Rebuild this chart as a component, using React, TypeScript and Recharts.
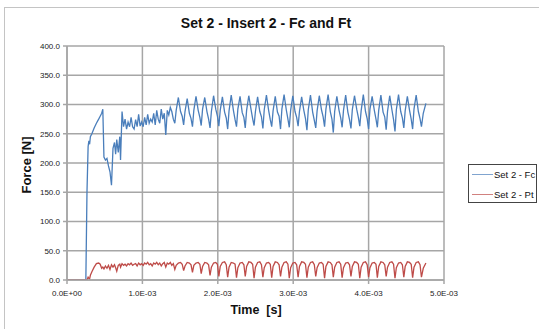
import React from "react";
import { LineChart, Line, XAxis, YAxis, CartesianGrid } from "recharts";

// time in milliseconds (axis labels shown in seconds, e.g. 1.0E-03)
const timeMs = [
  0, 0.25, 0.265, 0.28, 0.29, 0.30, 0.31, 0.33, 0.36, 0.39, 0.42, 0.44, 0.46, 0.475, 0.49, 0.51, 0.53, 0.55, 0.57, 0.59,
  0.61, 0.63, 0.645, 0.66, 0.68, 0.70, 0.71, 0.73, 0.75, 0.77, 0.79, 0.81, 0.83, 0.85, 0.87, 0.89, 0.91, 0.93, 0.95, 0.97,
  0.99, 1.01, 1.03, 1.05, 1.07, 1.09, 1.11, 1.13, 1.15, 1.17, 1.19, 1.21, 1.23, 1.25, 1.27, 1.29, 1.31, 1.33, 1.35, 1.37,
  1.39, 1.41,
  1.430, 1.448, 1.477, 1.506, 1.528,
  1.547, 1.565, 1.594, 1.623, 1.645,
  1.664, 1.682, 1.711, 1.740, 1.762,
  1.780, 1.798, 1.827, 1.856, 1.878,
  1.897, 1.915, 1.944, 1.973, 1.995,
  2.014, 2.032, 2.061, 2.090, 2.112,
  2.131, 2.149, 2.178, 2.207, 2.229,
  2.248, 2.266, 2.295, 2.324, 2.346,
  2.364, 2.382, 2.411, 2.440, 2.462,
  2.481, 2.499, 2.528, 2.557, 2.579,
  2.598, 2.616, 2.645, 2.674, 2.696,
  2.715, 2.733, 2.762, 2.791, 2.813,
  2.832, 2.850, 2.879, 2.908, 2.930,
  2.948, 2.966, 2.995, 3.024, 3.046,
  3.065, 3.083, 3.112, 3.141, 3.163,
  3.182, 3.200, 3.229, 3.258, 3.280,
  3.299, 3.317, 3.346, 3.375, 3.397,
  3.416, 3.434, 3.463, 3.492, 3.514,
  3.532, 3.550, 3.579, 3.608, 3.630,
  3.649, 3.667, 3.696, 3.725, 3.747,
  3.766, 3.784, 3.813, 3.842, 3.864,
  3.883, 3.901, 3.930, 3.959, 3.981,
  4.000, 4.018, 4.047, 4.076, 4.098,
  4.116, 4.134, 4.163, 4.192, 4.214,
  4.233, 4.251, 4.280, 4.309, 4.331,
  4.350, 4.368, 4.397, 4.426, 4.448,
  4.467, 4.485, 4.514, 4.543, 4.565,
  4.584, 4.602, 4.631, 4.660, 4.682,
  4.701, 4.725, 4.760,
];

const fcValues = [
  0, 0, 150, 228, 238, 232, 245, 250, 260, 268, 275, 280, 285, 292, 210, 205, 208, 195, 185, 162,
  225, 235, 215, 240, 218, 245, 205, 288, 262, 275, 258, 270, 262, 278, 262, 258, 274, 262, 283, 263,
  270, 262, 278, 265, 283, 268, 275, 270, 285, 265, 290, 275, 268, 292, 275, 285, 248, 290, 282, 295,
  288, 275,
  268, 290, 312, 288, 280,
  265, 288, 310, 285, 276,
  262, 290, 314, 290, 278,
  264, 292, 312, 288, 275,
  260, 288, 315, 292, 280,
  263, 290, 313, 287, 277,
  258, 289, 316, 290, 274,
  262, 292, 314, 286, 278,
  260, 290, 315, 292, 276,
  264, 288, 313, 288, 279,
  259, 291, 316, 290, 274,
  262, 289, 314, 287, 280,
  258, 292, 317, 291, 275,
  261, 290, 315, 288, 278,
  263, 288, 313, 290, 276,
  256, 291, 316, 287, 273,
  260, 289, 315, 291, 279,
  262, 292, 317, 288, 275,
  252, 288, 314, 290, 277,
  261, 290, 316, 287, 274,
  259, 291, 315, 292, 278,
  263, 289, 317, 288, 276,
  258, 292, 314, 290, 275,
  261, 290, 316, 287, 279,
  257, 288, 315, 291, 274,
  254, 291, 317, 288, 277,
  260, 289, 314, 290, 275,
  258, 292, 316, 288, 276,
  262, 285, 302,
];

const ftValues = [
  0, 0, 0, 5, 3, 2, 8, 14, 22, 28, 29, 27, 20, 22, 19, 24, 20, 25, 18, 26,
  22, 26, 21, 15, 25, 27, 22, 28, 25, 27, 24, 28, 26, 29, 25, 27, 28, 24, 29, 26,
  28, 25, 29, 27, 30, 26, 28, 24, 29, 27, 30, 26, 29, 24, 28, 30, 22, 29, 27, 30,
  25, 28,
  18, 25, 29, 30, 27,
  16, 24, 30, 29, 26,
  13, 25, 29, 30, 27,
  11, 23, 30, 29, 26,
  8, 22, 29, 30, 27,
  6, 23, 30, 31, 26,
  5, 22, 30, 29, 27,
  4, 21, 29, 30, 26,
  6, 23, 31, 30, 27,
  3, 22, 30, 31, 26,
  5, 21, 29, 30, 27,
  4, 23, 31, 30, 26,
  6, 22, 30, 31, 27,
  3, 21, 29, 30, 26,
  5, 23, 31, 30, 27,
  4, 22, 30, 31, 26,
  6, 21, 29, 30, 27,
  3, 23, 31, 30, 26,
  5, 22, 30, 31, 27,
  4, 21, 29, 30, 26,
  6, 23, 31, 30, 27,
  3, 22, 30, 31, 26,
  5, 21, 29, 30, 27,
  4, 23, 31, 30, 26,
  6, 22, 30, 31, 27,
  3, 21, 29, 30, 26,
  5, 23, 31, 30, 27,
  4, 22, 30, 31, 26,
  5, 20, 29,
];

const yTicks = [0, 50, 100, 150, 200, 250, 300, 350, 400];
const xTicks = [0, 1, 2, 3, 4, 5];
const seriesNames = ["Set 2 - Fc", "Set 2 - Pt"];
const chartTitle = "Set 2 - Insert 2 - Fc and Ft";
const xTitle = "Time  [s]";
const yTitle = "Force [N]";

const BLUE = "#4a7ebb";
const RED = "#be4b48";
const GRID = "#a6a6a6";
const FONT = "'Liberation Sans', Arial, sans-serif";

const data = timeMs.map((t, i) => ({ t, fc: fcValues[i], ft: ftValues[i] }));

function fmtExp(ms: number): string {
  const s = ms * 1e-3;
  if (s === 0) return "0.0E+00";
  let e = Math.floor(Math.log10(s) + 1e-9);
  let m = s / Math.pow(10, e);
  let mStr = m.toFixed(1);
  if (mStr === "10.0") {
    e += 1;
    mStr = "1.0";
  }
  const sign = e < 0 ? "-" : "+";
  const ae = Math.abs(e);
  return `${mStr}E${sign}${ae < 10 ? "0" + ae : ae}`;
}

export default function App() {
  return (
    <div
      style={{
        position: "absolute",
        left: 0,
        top: 0,
        width: 539,
        height: 329,
        background: "#fff",
        overflow: "hidden",
        fontFamily: FONT,
      }}
    >
      <div
        style={{
          position: "absolute",
          left: 4,
          top: 7,
          width: 700,
          height: 500,
          borderTop: "1px solid #c4c4c4",
          borderLeft: "1px solid #c4c4c4",
        }}
      />
      <div
        style={{
          position: "absolute",
          left: 0,
          width: 539,
          top: 13,
          textAlign: "center",
          paddingLeft: 0,
          fontSize: 14,
          fontWeight: "bold",
          color: "#111",
          lineHeight: "20px",
        }}
      >
        <span style={{ position: "absolute", left: 266, transform: "translateX(-50%)", whiteSpace: "nowrap" }}>
          {chartTitle}
        </span>
      </div>
      <div style={{ position: "absolute", left: 0, top: 0 }}>
        <LineChart
          width={539}
          height={329}
          data={data}
          margin={{ top: 46, right: 95, bottom: 29, left: 0 }}
        >
          <CartesianGrid stroke={GRID} strokeWidth={1.5} horizontalValues={yTicks} verticalValues={xTicks} />
          <XAxis
            type="number"
            dataKey="t"
            domain={[0, 5]}
            ticks={xTicks}
            height={20}
            tickFormatter={fmtExp}
            tick={{ fontSize: 8, fill: "#222", fontFamily: FONT }}
            tickSize={4}
            tickMargin={6}
            stroke={GRID}
            strokeWidth={1.5}
            allowDataOverflow
          />
          <YAxis
            type="number"
            domain={[0, 400]}
            ticks={yTicks}
            width={67}
            tickFormatter={(v: number) => v.toFixed(1)}
            tick={{ fontSize: 8, fill: "#222", fontFamily: FONT }}
            tickSize={4}
            tickMargin={3}
            stroke={GRID}
            strokeWidth={1.5}
            allowDataOverflow
          />
          <Line
            type="linear"
            dataKey="fc"
            stroke={BLUE}
            strokeWidth={1.3}
            dot={false}
            isAnimationActive={false}
          />
          <Line
            type="linear"
            dataKey="ft"
            stroke={RED}
            strokeWidth={1.3}
            dot={false}
            isAnimationActive={false}
          />
        </LineChart>
      </div>
      <div
        style={{
          position: "absolute",
          left: 256,
          top: 303,
          transform: "translateX(-50%)",
          fontSize: 12.5,
          fontWeight: "bold",
          color: "#111",
          whiteSpace: "pre",
          lineHeight: "15px",
        }}
      >
        {xTitle}
      </div>
      <div
        style={{
          position: "absolute",
          left: 26,
          top: 165,
          transform: "translate(-50%, -50%) rotate(-90deg)",
          fontSize: 13,
          fontWeight: "bold",
          color: "#111",
          whiteSpace: "nowrap",
          lineHeight: "15px",
        }}
      >
        {yTitle}
      </div>
      <div
        style={{
          position: "absolute",
          left: 468,
          top: 164,
          width: 67,
          height: 37,
          border: "1.5px solid #444",
          background: "#fff",
          fontSize: 9.5,
          color: "#111",
        }}
      >
        {seriesNames.map((name, i) => (
          <div
            key={name}
            style={{
              position: "absolute",
              left: 3,
              top: i === 0 ? 3 : 23,
              display: "flex",
              alignItems: "center",
              height: 12,
              whiteSpace: "nowrap",
            }}
          >
            <span
              style={{
                display: "inline-block",
                width: 21,
                height: 0,
                borderTop: `1.5px solid ${i === 0 ? BLUE : RED}`,
                opacity: 0.7,
              }}
            />
            <span style={{ marginLeft: 1 }}>{name}</span>
          </div>
        ))}
      </div>
    </div>
  );
}
